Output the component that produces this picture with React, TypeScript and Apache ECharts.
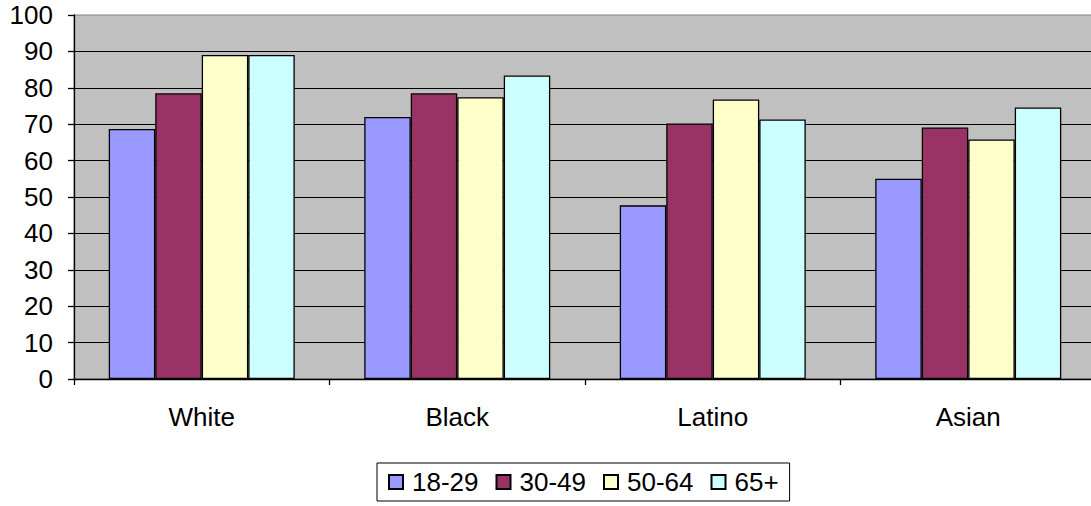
import React, { useEffect, useRef } from "react";
import * as echarts from "echarts";

const categories = ["White", "Black", "Latino", "Asian"];
const seriesNames = ["18-29", "30-49", "50-64", "65+"];
const age18to29 = [68.7, 72, 47.7, 55];
const age30to49 = [78.5, 78.5, 70.2, 69.1];
const age50to64 = [89, 77.4, 76.8, 65.8];
const age65plus = [89, 83.4, 71.3, 74.6];
const colors = ["#9999FF", "#993366", "#FFFFCC", "#CCFFFF"];
const yTicks = [0, 10, 20, 30, 40, 50, 60, 70, 80, 90, 100];

const FONT = "Arial, 'Liberation Sans', sans-serif";

export default function App() {
  const ref = useRef<HTMLDivElement>(null);
  useEffect(() => {
    if (!ref.current) return;
    const chart = echarts.init(ref.current, null, { renderer: "svg" });
    const values = [age18to29, age30to49, age50to64, age65plus];
    chart.setOption({
      animation: false,
      grid: {
        left: 74,
        top: 15,
        width: 1022,
        height: 364,
        show: true,
        backgroundColor: "#C0C0C0",
        borderColor: "#808080",
        borderWidth: 1,
      },
      legend: {
        left: 377,
        top: 463,
        data: seriesNames,
        orient: "horizontal",
        itemWidth: 14,
        itemHeight: 14,
        itemGap: 17,
        icon: "rect",
        padding: [6, 11, 6, 11],
        borderColor: "#000",
        borderWidth: 1,
        textStyle: { fontFamily: FONT, fontSize: 26, lineHeight: 26, color: "#000", padding: [0, 0, 0, 4] },
      },
      xAxis: {
        type: "category",
        data: categories,
        axisLine: { lineStyle: { color: "#000", width: 1.3 } },
        axisTick: { show: true, length: 6, lineStyle: { color: "#000", width: 1.3 } },
        axisLabel: { fontFamily: FONT, fontSize: 26, color: "#000", margin: 25 },
      },
      yAxis: {
        type: "value",
        min: yTicks[0],
        max: yTicks[yTicks.length - 1],
        interval: 10,
        axisLine: { show: true, lineStyle: { color: "#000", width: 1.3 } },
        axisTick: { show: true, length: 6, lineStyle: { color: "#000", width: 1.3 } },
        axisLabel: { fontFamily: FONT, fontSize: 26, color: "#000", margin: 21 },
        splitLine: { show: true, showMaxLine: false, showMinLine: false, lineStyle: { color: "#000", width: 1 } },
      },
      series: seriesNames.map((name, i) => ({
        name,
        type: "bar",
        data: values[i],
        barWidth: 46.5,
        barGap: "0%",
        itemStyle: { color: colors[i], borderColor: "#000", borderWidth: 1.3 },
        emphasis: { disabled: true },
      })),
    });
    return () => chart.dispose();
  }, []);
  return (
    <div style={{ position: "fixed", left: 0, top: 0, width: 1091, height: 506, overflow: "hidden", background: "#fff" }}>
      <div ref={ref} style={{ width: 1110, height: 506 }} />
    </div>
  );
}
